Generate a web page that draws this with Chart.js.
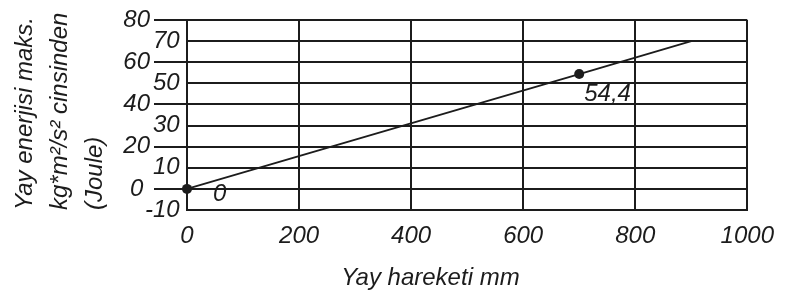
<!DOCTYPE html>
<html><head><meta charset="utf-8">
<script src="https://cdn.jsdelivr.net/npm/chart.js@4/dist/chart.umd.min.js"></script>
<style>html,body{margin:0;padding:0;background:#fff;} #wrap{width:786px;height:297px;}</style>
</head><body><div id="wrap"><canvas id="c" width="786" height="297"></canvas></div>
<script>
// ---- data ----
const xValues = [0, 700, 900];
const yValues = [0, 54.4, 70];
const markedPoints = [true, true, false];
const xTickLabels = [0, 200, 400, 600, 800, 1000];
const yOuterTickLabels = [80, 60, 40, 20, 0];
const yInnerTickLabels = [70, 50, 30, 10, -10];
const yTitleLines = ['Yay enerjisi maks.', 'kg*m²/s² cinsinden', '(Joule)'];
const xTitle = 'Yay hareketi mm';

const INK = '#1c1c1c';
const FAM = '"Liberation Sans", Arial, sans-serif';
const tickFont = {family: FAM, size: 24, style: 'italic', lineHeight: 1.2};
const fmt = v => String(v).replace('.', ',');

const pointLabelPlugin = {
  id: 'pointLabelPlugin',
  afterDatasetsDraw(chart) {
    const meta = chart.getDatasetMeta(0);
    const ctx = chart.ctx;
    const offs = [[26, 5], [5, 20], [0, 0]];
    ctx.save();
    ctx.font = 'italic 24px ' + FAM;
    ctx.fillStyle = INK;
    ctx.textAlign = 'left';
    ctx.textBaseline = 'middle';
    meta.data.forEach((pt, i) => {
      if (!markedPoints[i]) return;
      ctx.fillText(fmt(yValues[i]), pt.x + offs[i][0], pt.y + offs[i][1]);
    });
    ctx.restore();
  }
};

new Chart(document.getElementById('c'), {
  type: 'line',
  data: {
    datasets: [{
      data: xValues.map((x, i) => ({x: x, y: yValues[i]})),
      borderColor: INK,
      borderWidth: 1.8,
      tension: 0,
      clip: false,
      pointRadius: markedPoints.map(m => m ? 5 : 0),
      pointBackgroundColor: INK,
      pointBorderColor: INK,
      pointBorderWidth: 0
    }]
  },
  options: {
    responsive: false,
    animation: false,
    devicePixelRatio: 1,
    layout: {padding: {left: 0, top: 20, right: 30, bottom: 0}},
    plugins: {legend: {display: false}, tooltip: {enabled: false}},
    scales: {
      x: {
        type: 'linear',
        min: 0, max: 1000,
        afterBuildTicks: s => { s.ticks = xTickLabels.map(v => ({value: v})); },
        grid: {color: INK, lineWidth: 2, drawTicks: false},
        border: {color: INK, width: 2},
        ticks: {font: tickFont, color: INK, padding: 12, maxRotation: 0, autoSkip: false,
                callback: v => String(v)},
        title: {display: true, text: xTitle + '\u00a0'.repeat(11), color: INK,
                font: {family: FAM, size: 24, style: 'italic', lineHeight: 1.2},
                padding: {top: 0, bottom: 4}},
        afterFit: s => { s.height = 87; }
      },
      y: {
        type: 'linear',
        position: 'left',
        weight: 0,
        min: -10, max: 80,
        ticks: {stepSize: 10, autoSkip: false, font: tickFont, color: INK,
                mirror: true, crossAlign: 'far', padding: -42,
                callback: v => yInnerTickLabels.includes(v) ? String(v) : ''},
        grid: {color: INK, lineWidth: 2, drawTicks: true, tickLength: 33, tickWidth: 2,
               tickColor: c => (c.tick && yOuterTickLabels.includes(c.tick.value)) ? INK : 'rgba(0,0,0,0)'},
        border: {color: INK, width: 2},
        afterFit: s => { s.width = 33; }
      },
      y2: {
        type: 'linear',
        position: 'left',
        weight: 1,
        min: -10, max: 80,
        ticks: {stepSize: 10, autoSkip: false, font: tickFont, color: INK, padding: 4, crossAlign: 'center',
                callback: v => yOuterTickLabels.includes(v) ? String(v) : ''},
        grid: {display: false, drawTicks: false},
        border: {display: false},
        title: {display: true, text: yTitleLines, align: 'start', color: INK,
                font: {family: FAM, size: 24, style: 'italic', lineHeight: 1.46},
                padding: {top: 8, bottom: 0}},
        afterFit: s => { s.width = 154; }
      }
    }
  },
  plugins: [pointLabelPlugin]
});
</script>
</body></html>
